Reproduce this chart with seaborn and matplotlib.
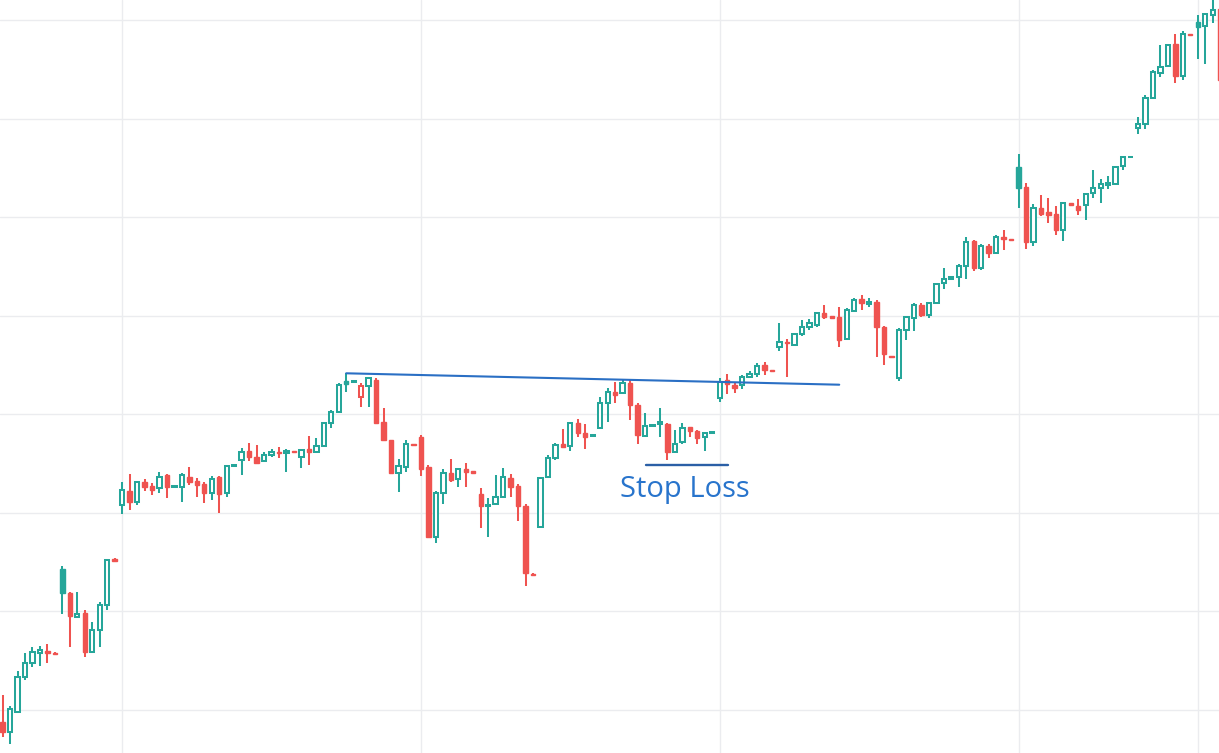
import matplotlib
matplotlib.use("Agg")
import matplotlib.pyplot as plt
from matplotlib.patches import Rectangle
import numpy as np
import pandas as pd
import seaborn as sns

# ---- data (price units) ----
open_ = [27.8, 26.8, 28.8, 32.3, 33.7, 34.7, 34.9, 34.7, 43.1, 40.7, 38.3, 38.7, 34.8, 37.0, 39.5, 44.1,
         49.5, 50.9, 49.8, 51.8, 51.4, 51.2, 52.5, 51.3, 51.3, 52.3, 51.9, 51.6, 50.7, 52.3, 50.7, 53.4,
         54.0, 54.9, 54.3, 53.9, 54.5, 54.8, 54.7, 54.9, 54.3, 55.1, 54.8, 55.4, 57.7, 58.8, 61.9, 61.8,
         60.3, 61.4, 62.0, 57.8, 56.0, 52.7, 53.3, 55.6, 56.3, 53.3, 46.3, 50.7, 52.7, 52.1, 53.1, 52.9,
         50.6, 49.4, 49.6, 50.3, 52.2, 51.4, 49.4, 42.65, 47.3, 52.3, 54.2, 55.6, 55.4, 57.7, 56.7, 56.4,
         57.2, 59.7, 60.8, 60.7, 61.7, 59.5, 56.4, 57.4, 57.6, 57.6, 54.8, 55.8, 57.3, 56.9, 56.3, 56.7,
         60.2, 62.0, 61.5, 61.5, 62.3, 62.6, 63.5, 63.0, 65.3, 65.8, 65.5, 66.6, 67.3, 67.5, 68.7, 68.4,
         68.3, 66.1, 68.9, 70.1, 69.6, 69.8, 67.3, 64.4, 62.2, 67.0, 68.2, 69.5, 68.5, 69.7, 71.7, 72.1,
         72.3, 73.4, 75.9, 73.2, 75.4, 74.7, 76.3, 76.1, 83.3, 81.3, 75.8, 79.2, 78.8, 78.6, 77.0, 79.65,
         79.4, 79.5, 80.75, 81.2, 81.5, 81.6, 83.4, 84.3, 87.2, 87.6, 90.2, 92.75, 93.4, 95.6, 92.4, 96.6,
         97.8, 97.4, 98.5, 99.1]
high = [30.5, 29.4, 32.9, 34.7, 35.3, 35.4, 35.6, 34.8, 43.4, 40.8, 40.8, 39.0, 37.8, 39.8, 44.1, 44.2,
        51.8, 52.6, 51.9, 52.1, 51.7, 52.8, 52.6, 51.4, 52.7, 53.3, 52.2, 51.8, 52.4, 52.4, 53.5, 53.5,
        55.2, 55.7, 55.5, 54.8, 55.1, 55.3, 55.1, 54.9, 55.1, 56.4, 56.2, 57.8, 59.0, 61.7, 62.7, 61.9,
        61.7, 62.3, 62.2, 59.2, 56.0, 54.1, 56.0, 55.6, 56.5, 53.5, 50.9, 53.1, 54.1, 53.2, 53.7, 52.95,
        51.2, 50.2, 52.5, 53.2, 52.6, 51.6, 49.6, 42.7, 52.2, 54.5, 55.7, 57.1, 57.8, 58.1, 57.6, 56.5,
        60.3, 61.2, 61.8, 62.1, 62.0, 59.7, 58.7, 57.5, 59.2, 57.7, 57.0, 57.7, 57.3, 57.0, 56.8, 56.85,
        62.2, 62.6, 61.7, 62.5, 62.9, 63.7, 63.8, 63.0, 67.7, 66.1, 66.7, 68.0, 68.1, 68.8, 69.5, 68.4,
        69.3, 69.2, 70.2, 70.5, 70.2, 70.0, 67.4, 64.45, 67.2, 68.4, 69.7, 69.7, 69.8, 71.7, 73.2, 72.3,
        73.6, 76.3, 76.0, 75.6, 75.6, 76.5, 77.0, 76.1, 84.6, 81.7, 79.6, 80.5, 80.2, 79.4, 79.8, 79.7,
        80.1, 80.7, 83.0, 82.1, 82.4, 83.4, 84.4, 84.4, 88.3, 90.5, 93.0, 95.5, 95.6, 96.6, 96.9, 96.65,
        98.5, 98.7, 100.5, 99.5]
low = [26.3, 25.6, 28.7, 32.0, 33.3, 33.4, 33.7, 34.55, 38.6, 35.3, 38.2, 34.3, 34.7, 35.3, 39.0, 43.8,
       48.6, 49.0, 49.5, 50.9, 50.5, 50.7, 50.2, 51.2, 49.8, 51.5, 50.3, 49.7, 50.0, 48.7, 50.3, 53.3,
       52.5, 53.9, 53.7, 53.8, 54.3, 54.2, 52.8, 54.7, 53.2, 53.5, 54.7, 55.3, 57.2, 58.7, 60.8, 61.7,
       59.3, 59.3, 57.7, 55.9, 52.6, 50.8, 52.8, 55.4, 52.4, 46.3, 45.7, 49.6, 51.8, 51.3, 51.3, 52.75,
       47.2, 46.3, 49.5, 50.3, 50.3, 47.9, 41.4, 42.5, 47.2, 52.2, 54.0, 55.3, 54.9, 56.3, 55.1, 56.35,
       57.1, 57.8, 59.7, 60.6, 58.0, 55.6, 56.3, 57.35, 56.3, 54.0, 54.7, 55.6, 56.3, 55.6, 54.9, 56.7,
       59.8, 60.6, 60.7, 61.1, 62.2, 62.3, 62.5, 62.85, 64.9, 62.3, 65.4, 66.4, 67.0, 67.3, 68.1, 68.25,
       65.3, 66.0, 68.8, 69.0, 69.3, 64.3, 63.5, 64.3, 61.9, 66.0, 66.9, 68.3, 68.2, 69.6, 71.1, 72.1,
       71.3, 72.1, 72.9, 73.0, 74.2, 74.6, 75.0, 76.0, 79.2, 75.1, 75.4, 78.4, 77.7, 76.5, 75.9, 79.5,
       78.5, 78.0, 80.2, 79.7, 81.1, 81.5, 83.0, 84.25, 86.6, 87.1, 90.1, 92.3, 93.3, 91.7, 92.0, 96.5,
       94.1, 93.6, 97.7, 91.8]
close = [26.8, 29.1, 32.3, 33.7, 34.8, 35.0, 34.7, 34.6, 40.7, 38.4, 38.6, 34.8, 37.0, 39.5, 44.0, 43.9,
         51.0, 49.8, 51.8, 51.3, 51.0, 52.3, 51.3, 51.35, 52.5, 51.8, 51.5, 50.7, 52.1, 50.6, 53.4, 53.5,
         54.8, 54.3, 53.7, 54.5, 54.8, 54.7, 54.9, 54.8, 55.0, 54.8, 55.4, 57.7, 58.8, 61.5, 61.6, 61.85,
         61.4, 62.2, 57.7, 56.0, 52.7, 53.4, 55.6, 55.5, 53.1, 46.3, 50.7, 52.7, 52.0, 53.1, 52.8, 52.75,
         49.4, 49.5, 50.3, 52.3, 51.3, 49.4, 42.7, 42.55, 52.2, 54.2, 55.5, 55.3, 57.7, 56.7, 56.3, 56.5,
         59.7, 60.8, 60.5, 61.7, 59.5, 56.5, 57.4, 57.5, 57.8, 54.8, 55.6, 57.2, 56.9, 56.2, 56.7, 56.8,
         61.8, 61.6, 61.2, 62.3, 62.6, 63.4, 63.0, 62.9, 65.8, 65.7, 66.6, 67.3, 67.7, 68.7, 68.3, 68.25,
         66.0, 69.0, 70.0, 69.7, 69.8, 67.3, 64.6, 64.3, 67.0, 68.3, 69.5, 68.5, 69.7, 71.6, 72.1, 72.25,
         73.4, 75.8, 73.2, 75.4, 74.7, 76.3, 76.1, 76.05, 81.2, 75.8, 79.2, 78.6, 78.5, 77.0, 79.7, 79.55,
         79.0, 80.6, 81.15, 81.6, 81.7, 83.3, 84.3, 84.35, 87.6, 90.2, 92.8, 93.3, 95.5, 92.4, 96.6, 96.55,
         97.3, 98.6, 99.0, 92.0]

# annotations
trend_idx = [46, 112]
trend_price = [62.67, 61.53]
stop_idx = [86.1, 97.1]
stop_price = [53.5, 53.5]
stop_label = "Stop Loss"
month_idx = [16, 56, 96, 136, 160]
grid_prices = [98.0, 88.14, 78.29, 68.43, 58.57, 48.71, 38.86, 29.0]

UP = "#26a69a"
DOWN = "#ef5350"

df = pd.DataFrame({"open": open_, "high": high, "low": low, "close": close})
df["idx"] = np.arange(len(df))
prev = df["close"].shift(1).fillna(df["open"])
df["color"] = np.where(df["close"] >= prev, UP, DOWN)
df["hollow"] = df["close"] >= df["open"]

sns.set_style("white")
fig = plt.figure(figsize=(12.19, 7.53), dpi=100)
ax = fig.add_axes([0, 0, 1, 1])
for s in ax.spines.values():
    s.set_visible(False)

for g in month_idx:
    ax.axvline(g, color="#ebecef", lw=1.0, zorder=0)
for g in grid_prices:
    ax.axhline(g, color="#ebecef", lw=1.0, zorder=0)

w = 0.58
ax.vlines(df["idx"], df["low"], df["high"], colors=df["color"], lw=1.45, zorder=2)
for _, r in df.iterrows():
    lo = min(r["open"], r["close"])
    hgt = abs(r["close"] - r["open"])
    if r["hollow"]:
        rect = Rectangle((r["idx"] - w / 2, lo), w, hgt, facecolor="white",
                         edgecolor=r["color"], lw=1.45, zorder=3)
    else:
        rect = Rectangle((r["idx"] - w / 2, lo), w, hgt, facecolor=r["color"],
                         edgecolor=r["color"], lw=1.0, zorder=3)
    ax.add_patch(rect)

tl = pd.DataFrame({"x": trend_idx, "y": trend_price})
sns.lineplot(data=tl, x="x", y="y", ax=ax, color="#2a6fc4", lw=1.5, zorder=4)
sl = pd.DataFrame({"x": stop_idx, "y": stop_price})
sns.lineplot(data=sl, x="x", y="y", ax=ax, color="#2b5fa6", lw=1.7, zorder=4)
ax.text(np.mean(stop_idx) - 0.3, 50.3, stop_label, ha="center", va="baseline",
        fontsize=21, color="#2874cc", family=["Open Sans", "DejaVu Sans"], zorder=5)

ax.set_xlim(-0.35, 162.84)
ax.set_ylim(24.7, 100.0)
ax.set_xticks([])
ax.set_yticks([])
ax.set_xlabel("")
ax.set_ylabel("")
fig.savefig("out.png", dpi=100)
